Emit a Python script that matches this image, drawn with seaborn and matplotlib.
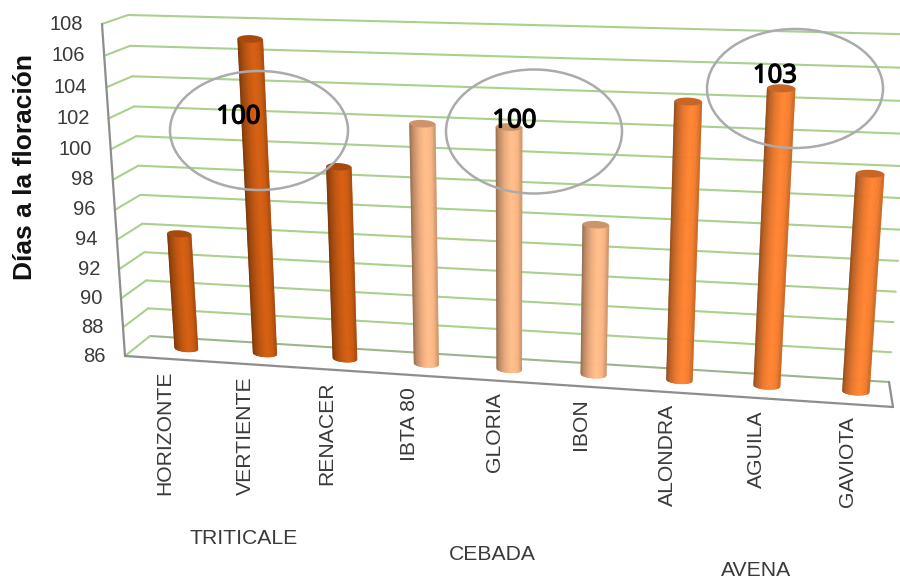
import numpy as np
import pandas as pd
import matplotlib
matplotlib.use("Agg")
import matplotlib.pyplot as plt
import matplotlib.patheffects as pe
import seaborn as sns
from matplotlib.patches import Ellipse, Polygon
from matplotlib.transforms import Affine2D, Transform

# Days to flowering per variety, grouped by crop
varieties = ["HORIZONTE", "VERTIENTE", "RENACER", "IBTA 80", "GLORIA", "IBON",
             "ALONDRA", "AGUILA", "GAVIOTA"]
crops = ["TRITICALE", "TRITICALE", "TRITICALE", "CEBADA", "CEBADA", "CEBADA",
         "AVENA", "AVENA", "AVENA"]
days = [94, 107, 99, 102, 102, 96, 104, 105, 100]
crop_colors = {"TRITICALE": "#CB5A10", "CEBADA": "#F8B483", "AVENA": "#F47D2E"}
y_ticks = list(range(86, 110, 2))
Y_MIN, Y_MAX = 86, 108

W, H = 900, 579
X_RANGE = (-0.5, 8.5)

sns.set_theme(style="white")
plt.rcParams["font.family"] = ["Liberation Sans", "DejaVu Sans"]


class PlaneProjection(Transform):
    """Projective map from (category, value) onto a quadrilateral in image pixels."""
    input_dims = output_dims = 2
    is_affine = False

    def __init__(self, corners):
        super().__init__()
        # corners: top-left, bottom-left, bottom-right, top-right
        (x0, x1), (y0, y1) = X_RANGE, (Y_MIN, Y_MAX)
        src = [(x0, y1), (x0, y0), (x1, y0), (x1, y1)]
        rows, rhs = [], []
        for (sx, sy), (dx, dy) in zip(src, corners):
            rows.append([sx, sy, 1, 0, 0, 0, -dx * sx, -dx * sy])
            rhs.append(dx)
            rows.append([0, 0, 0, sx, sy, 1, -dy * sx, -dy * sy])
            rhs.append(dy)
        self.m = np.append(np.linalg.solve(np.array(rows, float), np.array(rhs, float)), 1).reshape(3, 3)

    def transform_non_affine(self, values):
        v = np.asarray(values, float)
        p = np.column_stack([v, np.ones(len(v))]) @ self.m.T
        return p[:, :2] / p[:, 2:3]


FRONT = np.array([(102, 24), (125, 356), (893, 407), (919, 50)], float)
BACK = np.array([(128, 15), (150, 336), (889, 382), (915, 34.5)], float)


def plane(depth):
    return PlaneProjection(FRONT * (1 - depth) + BACK * depth)


flip = Affine2D().scale(1, -1).translate(0, H)
to_display = lambda t, dx=0, dy=0: t + Affine2D().translate(dx, dy) + flip

front_plane, mid_plane, back_plane = plane(0), plane(0.5), plane(1)

df = pd.DataFrame({"variedad": varieties, "cultivo": crops, "dias": days})

fig = plt.figure(figsize=(W / 100, H / 100), dpi=100, facecolor="white")
ax = fig.add_axes([0, 0, 1, 1])
sns.barplot(data=df, x="variedad", y="dias", hue="cultivo", palette=crop_colors,
            dodge=False, width=0.3, saturation=1, legend=False, ax=ax)
ax.set_xlim(*X_RANGE)
ax.set_ylim(Y_MIN, Y_MAX)
ax.set_axis_off()
ax.autoscale(False)

GRID = "#A9D18E"
AXIS = "#8E8E8E"
pixels = flip

# Gridlines across the back wall and along the side wall
for v in y_ticks:
    color = "#9DB58C" if v == Y_MIN else GRID
    ax.plot(X_RANGE, [v, v], color=color, lw=1.5, transform=to_display(back_plane),
            clip_on=True, zorder=1)
    corner = np.vstack([front_plane.transform_non_affine([(X_RANGE[0], v)]),
                        back_plane.transform_non_affine([(X_RANGE[0], v)])])
    ax.plot(corner[:, 0], corner[:, 1], color=GRID, lw=1.5, transform=pixels, zorder=1)

# Axis edge and floor outline
ax.plot([X_RANGE[0]] * 2, [Y_MIN, Y_MAX], color=AXIS, lw=1.6,
        transform=to_display(front_plane), zorder=2)
ax.plot(X_RANGE, [Y_MIN, Y_MIN], color=AXIS, lw=1.6,
        transform=to_display(front_plane), zorder=2)
right_edge = np.vstack([front_plane.transform_non_affine([(X_RANGE[1], Y_MIN)]),
                        back_plane.transform_non_affine([(X_RANGE[1], Y_MIN)])])
ax.plot(right_edge[:, 0], right_edge[:, 1], color=AXIS, lw=1.6, transform=pixels, zorder=2)

# Rebuild each seaborn bar as a shaded cylinder standing on the mid-depth plane
SHADE_POS = [0, 0.12, 0.35, 0.62, 0.85, 1]
SHADE_VAL = [0.58, 0.76, 0.95, 1.07, 1.0, 0.82]
CAP_DY = 0.24
N_STRIPS = 36
mid_display = to_display(mid_plane, dx=10)

for bar in sorted(ax.patches, key=lambda p: p.get_x()):
    x0, width, top = bar.get_x(), bar.get_width(), bar.get_height()
    rgb = np.array(bar.get_facecolor()[:3])
    bar.set_visible(False)
    edges = np.linspace(0, 1, N_STRIPS + 1)
    rim = lambda t: CAP_DY * np.sqrt(np.clip(1 - (2 * t - 1) ** 2, 0, 1))
    for a, b in zip(edges[:-1], edges[1:]):
        shade = np.interp((a + b) / 2, SHADE_POS, SHADE_VAL)
        c = np.clip(rgb * shade, 0, 1)
        xa, xb = x0 + a * width, x0 + b * width
        quad = [(xa, top), (xb, top), (xb, Y_MIN - rim(b)), (xa, Y_MIN - rim(a))]
        ax.add_patch(Polygon(quad, closed=True, facecolor=c, edgecolor=c, lw=0.4,
                             transform=mid_display, zorder=3))
    t = np.linspace(0, 2 * np.pi, 60)
    cap = np.column_stack([x0 + width / 2 + width / 2 * np.cos(t), top + CAP_DY * np.sin(t)])
    ax.add_patch(Polygon(cap, closed=True, facecolor=np.clip(rgb * 0.82, 0, 1), edgecolor="none",
                         transform=mid_display, zorder=4))

TEXT = "#3A3A3A"

# Value axis labels follow the slanted front edge
for v in y_ticks:
    ax.text(X_RANGE[0], v, str(v), ha="right", va="center", fontsize=14.5, color=TEXT,
            transform=to_display(front_plane, dx=-19), clip_on=False)

ax.text(25, 167, "Días a la floración", rotation=90, ha="center", va="center",
        fontsize=19, fontweight="bold", color="#111111", transform=pixels)

# Variety names hang below the front edge of the floor
for i, name in enumerate(varieties):
    ax.text(i, Y_MIN, name, rotation=90, ha="center", va="top", fontsize=15.2, color=TEXT,
            transform=to_display(front_plane, dy=12))

# Crop names
for name, (px, py) in zip(["TRITICALE", "CEBADA", "AVENA"], [(244, 539), (492, 555), (756, 570)]):
    ax.text(px, py, name, ha="center", va="center", fontsize=15.2, color=TEXT, transform=pixels)

# Circled crop means
crop_means = df.groupby("cultivo")["dias"].mean()
callouts = [("TRITICALE", (259, 130.5), 89, 59.5, (238.5, 117)),
            ("CEBADA", (534, 131.5), 88, 62, (514.5, 121)),
            ("AVENA", (795, 88.5), 88, 59.5, (775, 76))]
for crop, center, rx, ry, (tx, ty) in callouts:
    ax.add_patch(Ellipse(center, 2 * rx, 2 * ry, facecolor="none", edgecolor="#ABABAB",
                         lw=1.8, transform=pixels, zorder=5))
    label = ax.text(tx, ty, f"{crop_means[crop]:.0f}", ha="center", va="center", fontsize=18.5,
                    family="Noto Sans", color="black", transform=pixels, zorder=6)
    label.set_path_effects([pe.withStroke(linewidth=0.9, foreground="black")])

fig.savefig("out.png", dpi=100)
